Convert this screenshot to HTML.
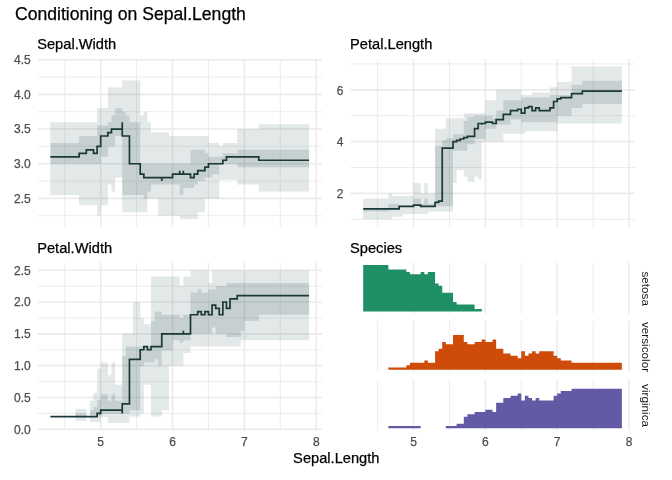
<!DOCTYPE html>
<html><head><meta charset="utf-8"><style>
html,body{margin:0;padding:0;background:#fff;width:672px;height:480px;overflow:hidden}
svg{display:block;font-family:"Liberation Sans",sans-serif;will-change:transform}
</style></head><body>
<svg width="672" height="480" viewBox="0 0 672 480">
<line x1="37.85" y1="215.72" x2="322.00" y2="215.72" stroke="#EBEBEB" stroke-width="0.95"/>
<line x1="37.85" y1="181.06" x2="322.00" y2="181.06" stroke="#EBEBEB" stroke-width="0.95"/>
<line x1="37.85" y1="146.39" x2="322.00" y2="146.39" stroke="#EBEBEB" stroke-width="0.95"/>
<line x1="37.85" y1="111.73" x2="322.00" y2="111.73" stroke="#EBEBEB" stroke-width="0.95"/>
<line x1="37.85" y1="77.06" x2="322.00" y2="77.06" stroke="#EBEBEB" stroke-width="0.95"/>
<line x1="64.78" y1="58.90" x2="64.78" y2="226.90" stroke="#EBEBEB" stroke-width="0.95"/>
<line x1="136.62" y1="58.90" x2="136.62" y2="226.90" stroke="#EBEBEB" stroke-width="0.95"/>
<line x1="208.47" y1="58.90" x2="208.47" y2="226.90" stroke="#EBEBEB" stroke-width="0.95"/>
<line x1="280.32" y1="58.90" x2="280.32" y2="226.90" stroke="#EBEBEB" stroke-width="0.95"/>
<line x1="37.85" y1="198.39" x2="322.00" y2="198.39" stroke="#EBEBEB" stroke-width="1.6"/>
<line x1="37.85" y1="163.73" x2="322.00" y2="163.73" stroke="#EBEBEB" stroke-width="1.6"/>
<line x1="37.85" y1="129.06" x2="322.00" y2="129.06" stroke="#EBEBEB" stroke-width="1.6"/>
<line x1="37.85" y1="94.40" x2="322.00" y2="94.40" stroke="#EBEBEB" stroke-width="1.6"/>
<line x1="37.85" y1="59.73" x2="322.00" y2="59.73" stroke="#EBEBEB" stroke-width="1.6"/>
<line x1="100.70" y1="58.90" x2="100.70" y2="226.90" stroke="#EBEBEB" stroke-width="1.6"/>
<line x1="172.55" y1="58.90" x2="172.55" y2="226.90" stroke="#EBEBEB" stroke-width="1.6"/>
<line x1="244.40" y1="58.90" x2="244.40" y2="226.90" stroke="#EBEBEB" stroke-width="1.6"/>
<line x1="316.25" y1="58.90" x2="316.25" y2="226.90" stroke="#EBEBEB" stroke-width="1.6"/>
<line x1="350.60" y1="219.26" x2="634.80" y2="219.26" stroke="#EBEBEB" stroke-width="0.95"/>
<line x1="350.60" y1="167.49" x2="634.80" y2="167.49" stroke="#EBEBEB" stroke-width="0.95"/>
<line x1="350.60" y1="115.72" x2="634.80" y2="115.72" stroke="#EBEBEB" stroke-width="0.95"/>
<line x1="350.60" y1="63.95" x2="634.80" y2="63.95" stroke="#EBEBEB" stroke-width="0.95"/>
<line x1="377.57" y1="58.90" x2="377.57" y2="226.90" stroke="#EBEBEB" stroke-width="0.95"/>
<line x1="449.43" y1="58.90" x2="449.43" y2="226.90" stroke="#EBEBEB" stroke-width="0.95"/>
<line x1="521.27" y1="58.90" x2="521.27" y2="226.90" stroke="#EBEBEB" stroke-width="0.95"/>
<line x1="593.12" y1="58.90" x2="593.12" y2="226.90" stroke="#EBEBEB" stroke-width="0.95"/>
<line x1="350.60" y1="193.38" x2="634.80" y2="193.38" stroke="#EBEBEB" stroke-width="1.6"/>
<line x1="350.60" y1="141.61" x2="634.80" y2="141.61" stroke="#EBEBEB" stroke-width="1.6"/>
<line x1="350.60" y1="89.83" x2="634.80" y2="89.83" stroke="#EBEBEB" stroke-width="1.6"/>
<line x1="413.50" y1="58.90" x2="413.50" y2="226.90" stroke="#EBEBEB" stroke-width="1.6"/>
<line x1="485.35" y1="58.90" x2="485.35" y2="226.90" stroke="#EBEBEB" stroke-width="1.6"/>
<line x1="557.20" y1="58.90" x2="557.20" y2="226.90" stroke="#EBEBEB" stroke-width="1.6"/>
<line x1="629.05" y1="58.90" x2="629.05" y2="226.90" stroke="#EBEBEB" stroke-width="1.6"/>
<line x1="37.85" y1="413.39" x2="322.00" y2="413.39" stroke="#EBEBEB" stroke-width="0.95"/>
<line x1="37.85" y1="381.57" x2="322.00" y2="381.57" stroke="#EBEBEB" stroke-width="0.95"/>
<line x1="37.85" y1="349.75" x2="322.00" y2="349.75" stroke="#EBEBEB" stroke-width="0.95"/>
<line x1="37.85" y1="317.93" x2="322.00" y2="317.93" stroke="#EBEBEB" stroke-width="0.95"/>
<line x1="37.85" y1="286.11" x2="322.00" y2="286.11" stroke="#EBEBEB" stroke-width="0.95"/>
<line x1="64.78" y1="262.60" x2="64.78" y2="430.60" stroke="#EBEBEB" stroke-width="0.95"/>
<line x1="136.62" y1="262.60" x2="136.62" y2="430.60" stroke="#EBEBEB" stroke-width="0.95"/>
<line x1="208.47" y1="262.60" x2="208.47" y2="430.60" stroke="#EBEBEB" stroke-width="0.95"/>
<line x1="280.32" y1="262.60" x2="280.32" y2="430.60" stroke="#EBEBEB" stroke-width="0.95"/>
<line x1="37.85" y1="429.30" x2="322.00" y2="429.30" stroke="#EBEBEB" stroke-width="1.6"/>
<line x1="37.85" y1="397.48" x2="322.00" y2="397.48" stroke="#EBEBEB" stroke-width="1.6"/>
<line x1="37.85" y1="365.66" x2="322.00" y2="365.66" stroke="#EBEBEB" stroke-width="1.6"/>
<line x1="37.85" y1="333.84" x2="322.00" y2="333.84" stroke="#EBEBEB" stroke-width="1.6"/>
<line x1="37.85" y1="302.02" x2="322.00" y2="302.02" stroke="#EBEBEB" stroke-width="1.6"/>
<line x1="37.85" y1="270.20" x2="322.00" y2="270.20" stroke="#EBEBEB" stroke-width="1.6"/>
<line x1="100.70" y1="262.60" x2="100.70" y2="430.60" stroke="#EBEBEB" stroke-width="1.6"/>
<line x1="172.55" y1="262.60" x2="172.55" y2="430.60" stroke="#EBEBEB" stroke-width="1.6"/>
<line x1="244.40" y1="262.60" x2="244.40" y2="430.60" stroke="#EBEBEB" stroke-width="1.6"/>
<line x1="316.25" y1="262.60" x2="316.25" y2="430.60" stroke="#EBEBEB" stroke-width="1.6"/>
<line x1="377.57" y1="262.60" x2="377.57" y2="313.70" stroke="#EBEBEB" stroke-width="0.95"/>
<line x1="449.43" y1="262.60" x2="449.43" y2="313.70" stroke="#EBEBEB" stroke-width="0.95"/>
<line x1="521.27" y1="262.60" x2="521.27" y2="313.70" stroke="#EBEBEB" stroke-width="0.95"/>
<line x1="593.12" y1="262.60" x2="593.12" y2="313.70" stroke="#EBEBEB" stroke-width="0.95"/>
<line x1="413.50" y1="262.60" x2="413.50" y2="313.70" stroke="#EBEBEB" stroke-width="1.6"/>
<line x1="485.35" y1="262.60" x2="485.35" y2="313.70" stroke="#EBEBEB" stroke-width="1.6"/>
<line x1="557.20" y1="262.60" x2="557.20" y2="313.70" stroke="#EBEBEB" stroke-width="1.6"/>
<line x1="629.05" y1="262.60" x2="629.05" y2="313.70" stroke="#EBEBEB" stroke-width="1.6"/>
<line x1="377.57" y1="321.00" x2="377.57" y2="372.10" stroke="#EBEBEB" stroke-width="0.95"/>
<line x1="449.43" y1="321.00" x2="449.43" y2="372.10" stroke="#EBEBEB" stroke-width="0.95"/>
<line x1="521.27" y1="321.00" x2="521.27" y2="372.10" stroke="#EBEBEB" stroke-width="0.95"/>
<line x1="593.12" y1="321.00" x2="593.12" y2="372.10" stroke="#EBEBEB" stroke-width="0.95"/>
<line x1="413.50" y1="321.00" x2="413.50" y2="372.10" stroke="#EBEBEB" stroke-width="1.6"/>
<line x1="485.35" y1="321.00" x2="485.35" y2="372.10" stroke="#EBEBEB" stroke-width="1.6"/>
<line x1="557.20" y1="321.00" x2="557.20" y2="372.10" stroke="#EBEBEB" stroke-width="1.6"/>
<line x1="629.05" y1="321.00" x2="629.05" y2="372.10" stroke="#EBEBEB" stroke-width="1.6"/>
<line x1="377.57" y1="379.50" x2="377.57" y2="430.60" stroke="#EBEBEB" stroke-width="0.95"/>
<line x1="449.43" y1="379.50" x2="449.43" y2="430.60" stroke="#EBEBEB" stroke-width="0.95"/>
<line x1="521.27" y1="379.50" x2="521.27" y2="430.60" stroke="#EBEBEB" stroke-width="0.95"/>
<line x1="593.12" y1="379.50" x2="593.12" y2="430.60" stroke="#EBEBEB" stroke-width="0.95"/>
<line x1="413.50" y1="379.50" x2="413.50" y2="430.60" stroke="#EBEBEB" stroke-width="1.6"/>
<line x1="485.35" y1="379.50" x2="485.35" y2="430.60" stroke="#EBEBEB" stroke-width="1.6"/>
<line x1="557.20" y1="379.50" x2="557.20" y2="430.60" stroke="#EBEBEB" stroke-width="1.6"/>
<line x1="629.05" y1="379.50" x2="629.05" y2="430.60" stroke="#EBEBEB" stroke-width="1.6"/>
<path d="M50.40,122.13 L97.11,122.13 L97.11,108.26 L107.88,108.26 L107.88,87.46 L122.25,87.46 L122.25,80.53 L140.22,80.53 L140.22,115.20 L143.81,115.20 L143.81,111.73 L147.40,111.73 L147.40,122.13 L151.00,122.13 L151.00,132.53 L168.96,132.53 L168.96,135.99 L208.47,135.99 L208.47,142.93 L219.25,142.93 L219.25,146.39 L222.84,146.39 L222.84,142.93 L237.22,142.93 L237.22,129.06 L258.77,129.06 L258.77,124.21 L309.06,124.21 L309.06,191.46 L258.77,191.46 L258.77,184.53 L237.22,184.53 L237.22,179.67 L219.25,179.67 L219.25,198.39 L204.88,198.39 L204.88,212.26 L197.70,212.26 L197.70,219.19 L179.73,219.19 L179.73,215.72 L158.18,215.72 L158.18,198.39 L147.40,198.39 L147.40,212.26 L122.25,212.26 L122.25,177.59 L115.07,177.59 L115.07,191.46 L111.48,191.46 L111.48,184.53 L107.88,184.53 L107.88,205.32 L100.70,205.32 L100.70,215.72 L97.11,215.72 L97.11,205.32 L79.15,205.32 L79.15,194.93 L50.40,194.93Z" fill="#2F4F4F" fill-opacity="0.135"/>
<path d="M50.40,142.93 L79.15,142.93 L79.15,135.99 L97.11,135.99 L97.11,125.60 L107.88,125.60 L107.88,122.13 L111.48,122.13 L111.48,115.20 L115.07,115.20 L115.07,108.26 L122.25,108.26 L122.25,111.73 L125.85,111.73 L125.85,115.20 L129.44,115.20 L129.44,122.13 L140.22,122.13 L140.22,163.73 L190.51,163.73 L190.51,149.86 L204.88,149.86 L204.88,153.33 L208.47,153.33 L208.47,156.79 L222.84,156.79 L222.84,153.33 L237.22,153.33 L237.22,149.86 L309.06,149.86 L309.06,167.19 L237.22,167.19 L237.22,163.73 L219.25,163.73 L219.25,174.13 L212.07,174.13 L212.07,177.59 L204.88,177.59 L204.88,181.06 L197.70,181.06 L197.70,184.53 L194.10,184.53 L194.10,187.99 L183.33,187.99 L183.33,194.93 L179.73,194.93 L179.73,184.53 L151.00,184.53 L151.00,191.46 L147.40,191.46 L147.40,198.39 L143.81,198.39 L143.81,194.93 L122.25,194.93 L122.25,135.99 L115.07,135.99 L115.07,146.39 L107.88,146.39 L107.88,156.79 L100.70,156.79 L100.70,163.73 L50.40,163.73Z" fill="#2F4F4F" fill-opacity="0.16"/>
<path d="M50.40,156.79 H79.15 V153.33 H86.33 V149.86 H93.52 V153.33 H97.11 V146.39 H100.70 V135.99 H107.88 V132.53 H111.48 V129.06 H122.25 V122.13 V135.99 H129.44 V163.73 H140.22 V174.13 H143.81 V177.59 H161.77 V181.06 V177.59 H172.55 V174.13 H179.73 V170.66 V174.13 H183.33 V170.66 V174.13 H190.51 V177.59 H194.10 V174.13 H197.70 V170.66 H204.88 V167.19 H208.47 V163.73 H222.84 V160.26 H226.44 V156.79 H258.77 V160.26 H309.06" fill="none" stroke="#1B3838" stroke-width="1.7" stroke-linejoin="miter" stroke-linecap="butt"/>
<path d="M363.20,198.55 L388.35,198.55 L388.35,193.38 L391.94,193.38 L391.94,195.97 L413.50,195.97 L413.50,183.02 L420.68,183.02 L420.68,193.38 L424.28,193.38 L424.28,183.02 L427.87,183.02 L427.87,193.38 L435.06,193.38 L435.06,128.66 L445.83,128.66 L445.83,118.31 L463.80,118.31 L463.80,113.13 L485.35,113.13 L485.35,100.19 L496.13,100.19 L496.13,89.83 L521.27,89.83 L521.27,95.01 L532.05,95.01 L532.05,92.42 L550.01,92.42 L550.01,87.25 L557.20,87.25 L557.20,82.07 L571.57,82.07 L571.57,66.54 L621.87,66.54 L621.87,123.49 L557.20,123.49 L557.20,131.25 L524.87,131.25 L524.87,133.84 L503.31,133.84 L503.31,141.61 L481.76,141.61 L481.76,179.14 L478.17,179.14 L478.17,176.55 L474.57,176.55 L474.57,181.73 L467.39,181.73 L467.39,176.55 L463.80,176.55 L463.80,170.08 L456.61,170.08 L456.61,183.02 L453.02,183.02 L453.02,211.50 L427.87,211.50 L427.87,214.09 L402.72,214.09 L402.72,216.68 L391.94,216.68 L391.94,219.26 L363.20,219.26Z" fill="#2F4F4F" fill-opacity="0.135"/>
<path d="M363.20,208.39 L388.35,208.39 L388.35,203.73 L399.13,203.73 L399.13,206.32 L413.50,206.32 L413.50,198.55 L420.68,198.55 L420.68,203.73 L424.28,203.73 L424.28,198.55 L427.87,198.55 L427.87,203.73 L435.06,203.73 L435.06,145.49 L442.24,145.49 L442.24,140.31 L445.83,140.31 L445.83,138.24 L453.02,138.24 L453.02,134.36 L463.80,134.36 L463.80,120.90 L467.39,120.90 L467.39,117.01 L474.57,117.01 L474.57,115.72 L492.53,115.72 L492.53,118.31 L496.13,118.31 L496.13,110.54 L503.31,110.54 L503.31,100.19 L521.27,100.19 L521.27,97.60 L550.01,97.60 L550.01,95.01 L571.57,95.01 L571.57,84.66 L582.35,84.66 L582.35,80.77 L621.87,80.77 L621.87,104.07 L582.35,104.07 L582.35,107.95 L571.57,107.95 L571.57,115.72 L557.20,115.72 L557.20,122.19 L521.27,122.19 L521.27,119.60 L510.50,119.60 L510.50,124.78 L496.13,124.78 L496.13,128.66 L485.35,128.66 L485.35,139.02 L474.57,139.02 L474.57,144.19 L467.39,144.19 L467.39,150.67 L453.02,150.67 L453.02,206.32 L435.06,206.32 L435.06,206.32 L399.13,206.32 L399.13,210.20 L388.35,210.20 L388.35,211.50 L363.20,211.50Z" fill="#2F4F4F" fill-opacity="0.16"/>
<path d="M363.20,208.91 H399.13 V206.32 H413.50 V205.03 H420.68 V206.32 H435.06 V202.44 H438.65 V201.14 H442.24 V148.08 H453.02 V141.61 H456.61 V140.31 H460.20 V139.02 H463.80 V137.72 H467.39 V136.43 H474.57 V128.66 H478.17 V123.49 H481.76 V124.78 V123.49 H485.35 V122.19 H492.53 V123.49 H496.13 V119.60 H503.31 V114.43 H510.50 V110.54 H517.68 V109.25 H521.27 V113.13 H524.87 V107.95 H528.46 V106.66 H532.05 V110.54 H535.64 V107.95 H539.24 V110.54 H550.01 V107.95 H553.61 V101.48 H557.20 V98.89 H560.79 V97.60 H571.57 V93.72 H582.35 V91.13 H621.87" fill="none" stroke="#1B3838" stroke-width="1.7" stroke-linejoin="miter" stroke-linecap="butt"/>
<path d="M50.40,416.57 L75.55,416.57 L75.55,408.94 L86.33,408.94 L86.33,416.57 L89.92,416.57 L89.92,400.66 L93.52,400.66 L93.52,393.03 L97.11,393.03 L97.11,368.84 L100.70,368.84 L100.70,362.48 L107.88,362.48 L107.88,375.21 L111.48,375.21 L111.48,362.48 L115.07,362.48 L115.07,384.75 L122.25,384.75 L122.25,333.84 L133.03,333.84 L133.03,302.02 L140.22,302.02 L140.22,317.93 L143.81,317.93 L143.81,324.29 L151.00,324.29 L151.00,276.56 L179.73,276.56 L179.73,286.11 L183.33,286.11 L183.33,276.56 L190.51,276.56 L190.51,270.20 L208.47,270.20 L208.47,282.93 L212.07,282.93 L212.07,270.20 L309.06,270.20 L309.06,340.20 L240.81,340.20 L240.81,346.57 L190.51,346.57 L190.51,352.93 L183.33,352.93 L183.33,365.66 L168.96,365.66 L168.96,410.21 L161.77,410.21 L161.77,416.57 L151.00,416.57 L151.00,384.75 L143.81,384.75 L143.81,413.39 L140.22,413.39 L140.22,416.57 L129.44,416.57 L129.44,422.94 L107.88,422.94 L107.88,417.21 L100.70,417.21 L100.70,422.30 L89.92,422.30 L89.92,416.57 L86.33,416.57 L86.33,421.03 L75.55,421.03 L75.55,416.57 L50.40,416.57Z" fill="#2F4F4F" fill-opacity="0.135"/>
<path d="M50.40,416.57 L75.55,416.57 L75.55,413.39 L86.33,413.39 L86.33,416.57 L89.92,416.57 L89.92,410.21 L93.52,410.21 L93.52,407.03 L97.11,407.03 L97.11,400.03 L100.70,400.03 L100.70,394.30 L107.88,394.30 L107.88,400.66 L111.48,400.66 L111.48,394.30 L115.07,394.30 L115.07,400.66 L122.25,400.66 L122.25,356.11 L125.85,356.11 L125.85,346.57 L151.00,346.57 L151.00,321.11 L154.59,321.11 L154.59,311.57 L161.77,311.57 L161.77,314.75 L179.73,314.75 L179.73,317.93 L183.33,317.93 L183.33,314.75 L190.51,314.75 L190.51,292.47 L197.70,292.47 L197.70,289.29 L201.29,289.29 L201.29,292.47 L208.47,292.47 L208.47,289.29 L212.07,289.29 L212.07,289.29 L215.66,289.29 L215.66,286.11 L226.44,286.11 L226.44,282.93 L309.06,282.93 L309.06,314.75 L258.77,314.75 L258.77,321.11 L244.40,321.11 L244.40,330.66 L240.81,330.66 L240.81,337.02 L226.44,337.02 L226.44,333.84 L215.66,333.84 L215.66,327.48 L212.07,327.48 L212.07,333.84 L208.47,333.84 L208.47,333.84 L190.51,333.84 L190.51,340.20 L183.33,340.20 L183.33,342.75 L179.73,342.75 L179.73,340.20 L172.55,340.20 L172.55,350.39 L161.77,350.39 L161.77,365.66 L158.18,365.66 L158.18,359.30 L154.59,359.30 L154.59,362.48 L143.81,362.48 L143.81,365.66 L140.22,365.66 L140.22,410.21 L129.44,410.21 L129.44,413.39 L122.25,413.39 L122.25,414.03 L100.70,414.03 L100.70,416.57 L97.11,416.57 L97.11,415.30 L89.92,415.30 L89.92,416.57 L50.40,416.57Z" fill="#2F4F4F" fill-opacity="0.16"/>
<path d="M50.40,416.57 H97.11 V413.39 H100.70 V410.21 H122.25 V413.39 V403.84 H129.44 V359.30 H140.22 V349.75 H143.81 V346.57 H147.40 V349.75 H151.00 V346.57 H161.77 V333.84 H183.33 V330.66 V333.84 H190.51 V314.75 H197.70 V311.57 H201.29 V314.75 H204.88 V311.57 H208.47 V314.75 H212.07 V305.20 H215.66 V308.38 H219.25 V314.75 H222.84 V302.02 H226.44 V308.38 H230.03 V298.84 H237.22 V295.66 H309.06" fill="none" stroke="#1B3838" stroke-width="1.7" stroke-linejoin="miter" stroke-linecap="butt"/>
<path d="M363.20,311.38 L363.20,264.92 L388.35,264.92 L388.35,269.57 L406.32,269.57 L406.32,271.89 L409.91,271.89 L409.91,274.21 L420.68,274.21 L420.68,271.89 L424.28,271.89 L424.28,274.21 L427.87,274.21 L427.87,271.89 L435.06,271.89 L435.06,283.50 L438.65,283.50 L438.65,285.83 L442.24,285.83 L442.24,292.80 L453.02,292.80 L453.02,302.09 L456.61,302.09 L456.61,304.41 L474.57,304.41 L474.57,309.05 L481.76,309.05 L481.76,311.38 L621.87,311.38 L621.87,311.38Z" fill="#1F8F66"/>
<path d="M363.20,369.78 L363.20,369.78 L388.35,369.78 L388.35,367.45 L406.32,367.45 L406.32,365.13 L409.91,365.13 L409.91,362.81 L424.28,362.81 L424.28,360.49 L427.87,360.49 L427.87,362.81 L435.06,362.81 L435.06,351.20 L438.65,351.20 L438.65,348.87 L442.24,348.87 L442.24,341.90 L445.83,341.90 L445.83,344.23 L453.02,344.23 L453.02,334.94 L463.80,334.94 L463.80,341.90 L467.39,341.90 L467.39,344.23 L474.57,344.23 L474.57,341.90 L481.76,341.90 L481.76,339.58 L485.35,339.58 L485.35,341.90 L492.53,341.90 L492.53,339.58 L496.13,339.58 L496.13,348.87 L503.31,348.87 L503.31,353.52 L510.50,353.52 L510.50,355.84 L517.68,355.84 L517.68,358.16 L521.27,358.16 L521.27,351.20 L524.87,351.20 L524.87,355.84 L528.46,355.84 L528.46,353.52 L532.05,353.52 L532.05,351.20 L535.64,351.20 L535.64,353.52 L539.24,353.52 L539.24,351.20 L553.61,351.20 L553.61,355.84 L557.20,355.84 L557.20,358.16 L560.79,358.16 L560.79,360.49 L571.57,360.49 L571.57,362.81 L621.87,362.81 L621.87,369.78Z" fill="#CE4B0A"/>
<path d="M363.20,428.28 L363.20,428.28 L388.35,428.28 L388.35,425.95 L420.68,425.95 L420.68,428.28 L445.83,428.28 L445.83,425.95 L456.61,425.95 L456.61,423.63 L463.80,423.63 L463.80,416.66 L467.39,416.66 L467.39,414.34 L474.57,414.34 L474.57,412.02 L481.76,412.02 L481.76,412.02 L485.35,412.02 L485.35,409.70 L492.53,409.70 L492.53,412.02 L496.13,412.02 L496.13,402.73 L503.31,402.73 L503.31,398.08 L510.50,398.08 L510.50,395.76 L517.68,395.76 L517.68,393.44 L521.27,393.44 L521.27,400.40 L524.87,400.40 L524.87,395.76 L528.46,395.76 L528.46,398.08 L532.05,398.08 L532.05,400.40 L535.64,400.40 L535.64,398.08 L539.24,398.08 L539.24,400.40 L553.61,400.40 L553.61,395.76 L557.20,395.76 L557.20,393.44 L560.79,393.44 L560.79,391.11 L571.57,391.11 L571.57,388.79 L621.87,388.79 L621.87,428.28Z" fill="#625AA5"/>
<text x="30.80" y="202.74" font-size="12.0" fill="#4D4D4D" stroke="#4D4D4D" stroke-width="0.25" text-anchor="end" >2.5</text>
<text x="30.80" y="168.08" font-size="12.0" fill="#4D4D4D" stroke="#4D4D4D" stroke-width="0.25" text-anchor="end" >3.0</text>
<text x="30.80" y="133.41" font-size="12.0" fill="#4D4D4D" stroke="#4D4D4D" stroke-width="0.25" text-anchor="end" >3.5</text>
<text x="30.80" y="98.75" font-size="12.0" fill="#4D4D4D" stroke="#4D4D4D" stroke-width="0.25" text-anchor="end" >4.0</text>
<text x="30.80" y="64.08" font-size="12.0" fill="#4D4D4D" stroke="#4D4D4D" stroke-width="0.25" text-anchor="end" >4.5</text>
<text x="343.50" y="198.13" font-size="12.0" fill="#4D4D4D" stroke="#4D4D4D" stroke-width="0.25" text-anchor="end" >2</text>
<text x="343.50" y="146.36" font-size="12.0" fill="#4D4D4D" stroke="#4D4D4D" stroke-width="0.25" text-anchor="end" >4</text>
<text x="343.50" y="94.58" font-size="12.0" fill="#4D4D4D" stroke="#4D4D4D" stroke-width="0.25" text-anchor="end" >6</text>
<text x="30.80" y="433.65" font-size="12.0" fill="#4D4D4D" stroke="#4D4D4D" stroke-width="0.25" text-anchor="end" >0.0</text>
<text x="30.80" y="401.83" font-size="12.0" fill="#4D4D4D" stroke="#4D4D4D" stroke-width="0.25" text-anchor="end" >0.5</text>
<text x="30.80" y="370.01" font-size="12.0" fill="#4D4D4D" stroke="#4D4D4D" stroke-width="0.25" text-anchor="end" >1.0</text>
<text x="30.80" y="338.19" font-size="12.0" fill="#4D4D4D" stroke="#4D4D4D" stroke-width="0.25" text-anchor="end" >1.5</text>
<text x="30.80" y="306.37" font-size="12.0" fill="#4D4D4D" stroke="#4D4D4D" stroke-width="0.25" text-anchor="end" >2.0</text>
<text x="30.80" y="274.55" font-size="12.0" fill="#4D4D4D" stroke="#4D4D4D" stroke-width="0.25" text-anchor="end" >2.5</text>
<text x="100.70" y="446.00" font-size="12.0" fill="#4D4D4D" stroke="#4D4D4D" stroke-width="0.25" text-anchor="middle" >5</text>
<text x="413.50" y="446.00" font-size="12.0" fill="#4D4D4D" stroke="#4D4D4D" stroke-width="0.25" text-anchor="middle" >5</text>
<text x="172.55" y="446.00" font-size="12.0" fill="#4D4D4D" stroke="#4D4D4D" stroke-width="0.25" text-anchor="middle" >6</text>
<text x="485.35" y="446.00" font-size="12.0" fill="#4D4D4D" stroke="#4D4D4D" stroke-width="0.25" text-anchor="middle" >6</text>
<text x="244.40" y="446.00" font-size="12.0" fill="#4D4D4D" stroke="#4D4D4D" stroke-width="0.25" text-anchor="middle" >7</text>
<text x="557.20" y="446.00" font-size="12.0" fill="#4D4D4D" stroke="#4D4D4D" stroke-width="0.25" text-anchor="middle" >7</text>
<text x="316.25" y="446.00" font-size="12.0" fill="#4D4D4D" stroke="#4D4D4D" stroke-width="0.25" text-anchor="middle" >8</text>
<text x="629.05" y="446.00" font-size="12.0" fill="#4D4D4D" stroke="#4D4D4D" stroke-width="0.25" text-anchor="middle" >8</text>
<text x="37.20" y="49.30" font-size="14.67" fill="#000" stroke="#000" stroke-width="0.25" text-anchor="start" >Sepal.Width</text>
<text x="350.00" y="49.30" font-size="14.67" fill="#000" stroke="#000" stroke-width="0.25" text-anchor="start" >Petal.Length</text>
<text x="37.20" y="253.00" font-size="14.67" fill="#000" stroke="#000" stroke-width="0.25" text-anchor="start" >Petal.Width</text>
<text x="350.00" y="253.00" font-size="14.67" fill="#000" stroke="#000" stroke-width="0.25" text-anchor="start" >Species</text>
<text x="336.32" y="462.90" font-size="14.67" fill="#000" stroke="#000" stroke-width="0.25" text-anchor="middle" >Sepal.Length</text>
<text x="15.00" y="19.90" font-size="17.6" fill="#000" stroke="#000" stroke-width="0.25" text-anchor="start" >Conditioning on Sepal.Length</text>
<text x="0" y="0" font-size="11.73" fill="#1A1A1A" text-anchor="middle" transform="translate(641.5 288.65) rotate(90)">setosa</text>
<text x="0" y="0" font-size="11.73" fill="#1A1A1A" text-anchor="middle" transform="translate(641.5 347.05) rotate(90)">versicolor</text>
<text x="0" y="0" font-size="11.73" fill="#1A1A1A" text-anchor="middle" transform="translate(641.5 405.55) rotate(90)">virginica</text>
</svg></body></html>
